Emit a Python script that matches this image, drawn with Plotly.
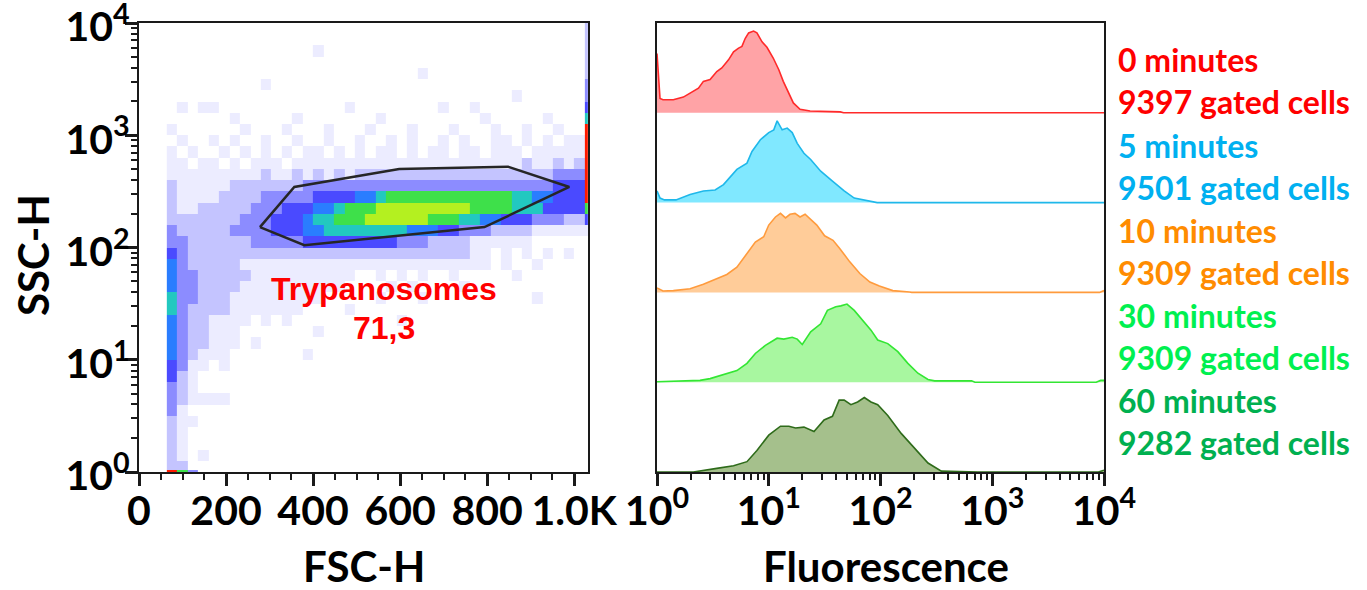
import math
import plotly.graph_objects as go

W, H = 1367, 590

# ---------------- Left panel: FSC-H vs SSC-H density (levels 0-9) -------------
fsc_edges = [64 + 24 * j for j in range(41)] + [1032]          # last column = pile-up at max
log_ssc_edges = [0.0, 0.02] + [round(0.1 * k, 2) for k in range(1, 41)]
# rows listed from top (log SSC 3.9-4.0) down to the bottom pile-up row
density_rows = [
    "0000000000 0000000000 0000000000 0000000000 2",
    "0000000000 0000000000 0000000000 0000000000 2",
    "0000000000 0000100000 0000000000 0000000000 2",
    "0000000000 0000000000 0000000000 0000000000 2",
    "0000000000 0000000000 0000100000 0000000000 2",
    "0000000001 0000000000 0000000000 0000000000 3",
    "0000000000 0000000000 0000000000 0001000000 3",
    "0101100000 0000000100 0000001001 0000000000 4",
    "0000001000 0010000000 1000000000 1000001000 6",
    "1000000100 0100010001 0001000100 0100100100 9",
    "0100101001 0010010010 0101001010 0110101011 9",
    "1010010101 0101101010 1101011011 0111011111 9",
    "1101101011 1011111111 1111111111 1111211212 9",
    "1111111112 1121212122 2222222222 2222222333 9",
    "2111112222 2223333333 3333333333 3333333444 9",
    "2111122223 3333444455 6777777777 7776655444 9",
    "2112222233 3444556777 8888888887 7776664444 7",
    "2222222333 4445667778 8888877766 5544433322 4",
    "3222223333 4445566666 6665554433 3222211111 1",
    "3322222233 3334444444 4433322221 1111100000 0",
    "4322222222 2222222222 2222222221 1010101010 0",
    "5322222111 1111111111 1111111111 1010010000 0",
    "5332222211 1111111100 1010100100 0001000000 0",
    "5332222111 1111111000 0101000010 0000000000 0",
    "6332221111 1111100000 1000100000 0000010000 0",
    "6322221111 1110000100 0000000000 0000000000 0",
    "5322111101 0100000000 0010000000 0000000000 0",
    "5322111000 0000100000 0000000000 0000000000 0",
    "5322111010 0000000000 0000000000 0000000000 0",
    "5321110000 0001000000 0000000000 0000000000 0",
    "4311010000 0000000000 0000000000 0000000000 0",
    "4210000000 0000000000 0000000000 0000000000 0",
    "3210000000 0000000000 0000000000 0000000000 0",
    "3211110000 0000000000 0000000000 0000000000 0",
    "3100000000 0000000000 0000000000 0000000000 0",
    "2110000000 0000000000 0000000000 0000000000 0",
    "2100000000 0000000000 0000000000 0000000000 0",
    "2100000000 0000000000 0000000000 0000000000 0",
    "2101000000 0000000000 0000000000 0000000000 0",
    "2200000000 0000000000 0000000000 0000000000 0",
    "9730000000 0000000000 0000000000 0000000000 0",
]
level_colors = ["#ffffff", "#ececff", "#c4c4ff", "#8c8cff", "#4a4aff",
                "#2a7dff", "#22c8c0", "#3ee04a", "#b4f020", "#ff1a00"]

gate_fsc = [278, 357, 598, 848, 989, 794, 380, 278]
gate_ssc = [152, 346, 500, 525, 346, 152, 105, 152]
gate_name = "Trypanosomes"
gate_pct = "71,3"

# ---------------- Right panel: fluorescence histograms (log10 fluorescence, fraction of band) ---
red_x = [0.0, 0.027, 0.054, 0.146, 0.236, 0.296, 0.371, 0.415, 0.475, 0.535, 0.58, 0.64, 0.685, 0.73,
         0.76, 0.79, 0.82, 0.864, 0.894, 0.94, 0.984, 1.04, 1.09, 1.13, 1.18, 1.22, 1.28, 1.37, 1.64, 1.67, 4.0]
red_y = [0.66, 0.16, 0.145, 0.145, 0.175, 0.22, 0.275, 0.35, 0.37, 0.46, 0.50, 0.59, 0.68, 0.72,
         0.74, 0.83, 0.89, 0.91, 0.89, 0.79, 0.73, 0.61, 0.48, 0.35, 0.22, 0.11, 0.04, 0.02, 0.01, 0.0, 0.0]

cyan_x = [0.0, 0.027, 0.067, 0.17, 0.296, 0.415, 0.52, 0.595, 0.715, 0.805, 0.85, 0.925, 1.0, 1.045,
          1.075, 1.12, 1.165, 1.21, 1.255, 1.315, 1.375, 1.465, 1.57, 1.675, 1.765, 1.85, 1.94, 1.97, 4.0]
cyan_y = [0.13, 0.05, 0.03, 0.03, 0.09, 0.13, 0.14, 0.20, 0.37, 0.44, 0.57, 0.70, 0.78, 0.81,
          0.91, 0.81, 0.83, 0.78, 0.66, 0.55, 0.48, 0.35, 0.24, 0.13, 0.05, 0.03, 0.01, 0.0, 0.0]

orange_x = [0.0, 0.054, 0.146, 0.296, 0.415, 0.535, 0.625, 0.715, 0.805, 0.88, 0.955, 1.0, 1.06, 1.105,
            1.15, 1.19, 1.235, 1.28, 1.325, 1.37, 1.43, 1.50, 1.575, 1.635, 1.725, 1.815, 1.905, 1.99,
            2.11, 2.26, 2.28, 3.96, 4.0]
orange_y = [0.05, 0.015, 0.02, 0.04, 0.09, 0.15, 0.20, 0.28, 0.43, 0.56, 0.62, 0.75, 0.84, 0.88,
            0.83, 0.87, 0.88, 0.84, 0.87, 0.82, 0.75, 0.63, 0.58, 0.49, 0.34, 0.21, 0.115, 0.07,
            0.02, 0.005, 0.0, 0.0, 0.02]

green_x = [0.0, 0.385, 0.475, 0.58, 0.715, 0.805, 0.88, 0.97, 1.075, 1.135, 1.21, 1.255, 1.30, 1.375,
           1.465, 1.525, 1.60, 1.645, 1.70, 1.765, 1.84, 1.915, 1.975, 2.065, 2.155, 2.245, 2.335,
           2.425, 2.485, 2.815, 2.845, 3.93, 3.97, 4.0]
green_y = [0.005, 0.02, 0.04, 0.08, 0.13, 0.21, 0.32, 0.41, 0.49, 0.48, 0.50, 0.48, 0.42, 0.56,
           0.65, 0.80, 0.84, 0.85, 0.87, 0.80, 0.69, 0.58, 0.47, 0.43, 0.34, 0.21, 0.10,
           0.03, 0.015, 0.015, 0.0, 0.0, 0.02, 0.02]

dkgreen_x = [0.0, 0.325, 0.535, 0.685, 0.805, 0.894, 1.0, 1.105, 1.18, 1.24, 1.315, 1.405, 1.495, 1.57,
             1.63, 1.675, 1.735, 1.795, 1.855, 1.915, 1.975, 2.065, 2.185, 2.305, 2.425, 2.545, 2.87,
             3.95, 4.0]
dkgreen_y = [0.0, 0.0, 0.04, 0.07, 0.115, 0.24, 0.41, 0.51, 0.51, 0.49, 0.50, 0.45, 0.58, 0.62,
             0.80, 0.80, 0.75, 0.78, 0.83, 0.78, 0.75, 0.63, 0.43, 0.26, 0.10, 0.01, 0.0,
             0.0, 0.02]

hist_x = [red_x, cyan_x, orange_x, green_x, dkgreen_x]
hist_y = [red_y, cyan_y, orange_y, green_y, dkgreen_y]
line_colors = ["#ff2a2a", "#1fb8ea", "#ff9b3d", "#33e633", "#2e6b1a"]
fill_colors = ["#ffa3a6", "#80e8ff", "#ffcc99", "#a8f7a0", "#a5c08c"]

legend_time = ["0 minutes", "5 minutes", "10 minutes", "30 minutes", "60 minutes"]
legend_cells = ["9397 gated cells", "9501 gated cells", "9309 gated cells", "9309 gated cells", "9282 gated cells"]
legend_colors = ["#ff0000", "#00b0f0", "#ff8c00", "#00f050", "#00b050"]

# ---------------------------------------------------------------------------------------------
fig = go.Figure()

rows = [r.replace(" ", "") for r in density_rows][::-1]
z = [[int(c) for c in r.ljust(41, "0")[:41]] for r in rows]
cs = []
for i, c in enumerate(level_colors):
    cs.append([i / 10, c])
    cs.append([(i + 1) / 10, c])
fig.add_trace(go.Heatmap(x=fsc_edges, y=log_ssc_edges, z=z, zmin=-0.5, zmax=9.5,
                         colorscale=cs, showscale=False, hoverinfo="skip",
                         xaxis="x", yaxis="y"))

fig.add_trace(go.Scatter(x=gate_fsc, y=[math.log10(v) for v in gate_ssc], mode="lines",
                         line=dict(color="#262626", width=2.5), hoverinfo="skip",
                         showlegend=False, xaxis="x", yaxis="y"))

for i in range(5):
    off = 4 - i
    fig.add_trace(go.Scatter(x=[0, 4], y=[off, off], mode="lines", line=dict(width=0),
                             hoverinfo="skip", showlegend=False, xaxis="x2", yaxis="y2"))
    fig.add_trace(go.Scatter(x=hist_x[i], y=[off + v for v in hist_y[i]], mode="lines",
                             line=dict(color=line_colors[i], width=1.6), fill="tonexty",
                             fillcolor=fill_colors[i], hoverinfo="skip", showlegend=False,
                             xaxis="x2", yaxis="y2"))

tick_font = dict(family="Lato", size=41, color="black")
pow_vals = [0, 1, 2, 3, 4]
pow_text = ["<b>10<sup>%d</sup></b>" % k for k in pow_vals]
minor_log = [math.log10(m * 10 ** d) for d in range(4) for m in range(2, 10)]
minor_style = dict(ticks="outside", ticklen=6, tickwidth=2, tickcolor="#1a1a1a")
common = dict(showline=True, mirror=True, linecolor="#1a1a1a", linewidth=2.2, showgrid=False,
              zeroline=False, ticks="outside", ticklen=12, tickwidth=2.5, tickcolor="#1a1a1a",
              tickfont=tick_font, automargin=False, ticklabeloverflow="allow")

fig.update_layout(
    width=W, height=H, margin=dict(l=0, r=0, t=0, b=0, pad=0),
    paper_bgcolor="white", plot_bgcolor="white", showlegend=False,
    xaxis=dict(domain=[139 / W, 588 / W], range=[0, 1032], tickmode="array",
               tickvals=[0, 200, 400, 600, 800, 1000],
               ticktext=["<b>0</b>", "<b>200</b>", "<b>400</b>", "<b>600</b>", "<b>800</b>", "<b>1.0K</b>"],
               minor=dict(tickvals=[50, 100, 150, 250, 300, 350, 450, 500, 550, 650, 700, 750, 850, 900, 950],
                          **minor_style),
               ticklabelstandoff=-10, anchor="y", **common),
    yaxis=dict(domain=[1 - 472 / H, 1 - 23 / H], range=[0, 4], tickmode="array",
               tickvals=pow_vals, ticktext=pow_text,
               minor=dict(tickvals=minor_log, **minor_style),
               ticklabelstandoff=-13, ticklabelshift=4, anchor="x", **common),
    xaxis2=dict(domain=[657 / W, 1104 / W], range=[0, 4], tickmode="array",
                tickvals=pow_vals, ticktext=pow_text,
                minor=dict(tickvals=minor_log, **minor_style),
                ticklabelstandoff=-10, anchor="y2", **common),
    yaxis2=dict(domain=[1 - 472 / H, 1 - 23 / H], range=[0, 5], showline=True, mirror=True,
                linecolor="#1a1a1a", linewidth=2.2, showgrid=False, zeroline=False,
                showticklabels=False, ticks="", anchor="x2", automargin=False),
)

ann = []
title_font = dict(family="Lato", size=42, color="black")
ann.append(dict(text="<b>SSC-H</b>", x=33 / W, y=1 - 255 / H, xref="paper", yref="paper",
                textangle=-90, showarrow=False, font=title_font, xanchor="center", yanchor="middle"))
ann.append(dict(text="<b>FSC-H</b>", x=364 / W, y=1 - 566 / H, xref="paper", yref="paper",
                showarrow=False, font=title_font, xanchor="center", yanchor="middle"))
ann.append(dict(text="<b>Fluorescence</b>", x=886 / W, y=1 - 566 / H, xref="paper", yref="paper",
                showarrow=False, font=title_font, xanchor="center", yanchor="middle"))
gfont = dict(family="Liberation Sans", size=32, color="#ff0000")
ann.append(dict(text="<b>%s</b>" % gate_name, x=562, y=1.63, xref="x", yref="y",
                showarrow=False, font=gfont, xanchor="center", yanchor="middle"))
ann.append(dict(text="<b>%s</b>" % gate_pct, x=562, y=1.28, xref="x", yref="y",
                showarrow=False, font=gfont, xanchor="center", yanchor="middle"))
leg_y = [60, 102, 145, 187, 230, 272, 315, 357, 400, 442]
for i in range(5):
    for j, txt in enumerate([legend_time[i], legend_cells[i]]):
        ann.append(dict(text="<b>%s</b>" % txt, x=1116 / W, y=1 - leg_y[2 * i + j] / H,
                        xref="paper", yref="paper", showarrow=False, xanchor="left", yanchor="middle",
                        font=dict(family="Lato", size=32, color=legend_colors[i])))
fig.update_layout(annotations=ann)

fig.write_html("out.html", config={"displayModeBar": False},
               post_script="document.body.style.margin='0px';document.body.style.overflow='hidden';")
